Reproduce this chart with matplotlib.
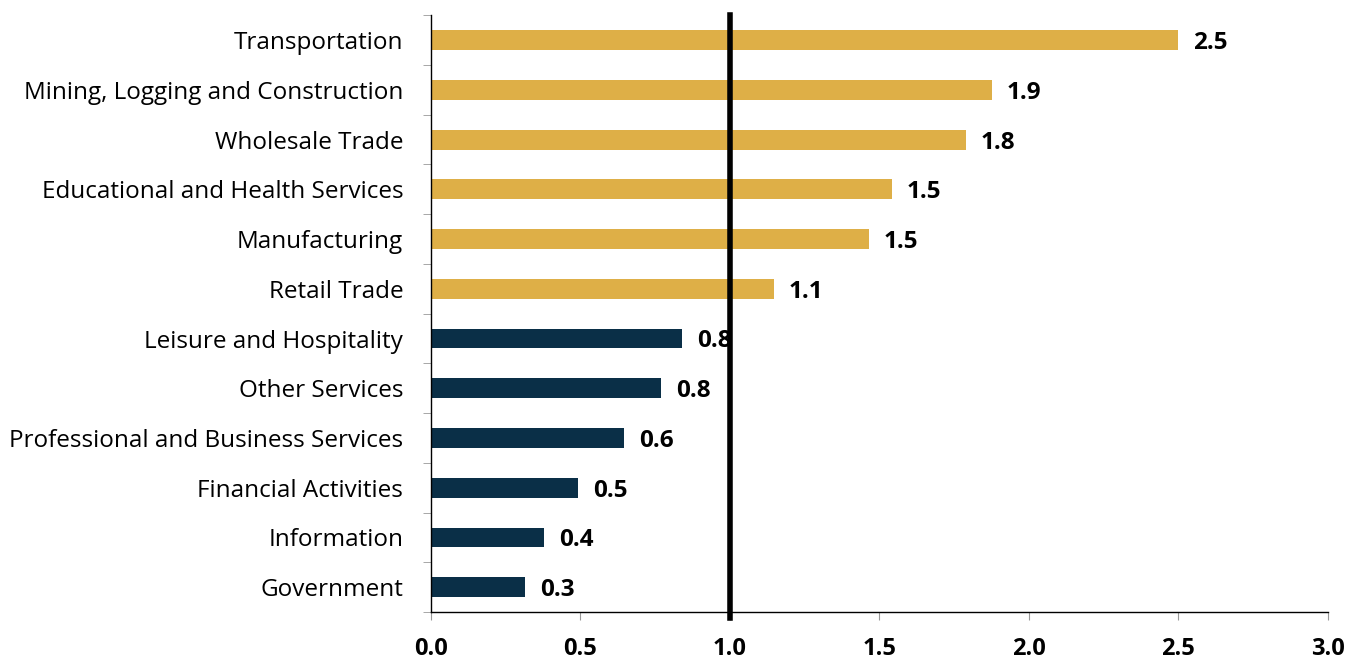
import matplotlib.pyplot as plt

# Data (top to bottom)
industries = [
    "Transportation",
    "Mining, Logging and Construction",
    "Wholesale Trade",
    "Educational and Health Services",
    "Manufacturing",
    "Retail Trade",
    "Leisure and Hospitality",
    "Other Services",
    "Professional and Business Services",
    "Financial Activities",
    "Information",
    "Government",
]
values = [2.50, 1.876, 1.789, 1.542, 1.465, 1.147, 0.839, 0.769, 0.645, 0.492, 0.378, 0.314]
above_one = ["#DEAF47" if v > 1 else "#0A2F47" for v in values]

plt.rcParams['font.family'] = ['Open Sans', 'DejaVu Sans']

fig = plt.figure(figsize=(13.66, 6.61), dpi=100)
ax = fig.add_axes([0.3155, 0.074, 0.6565, 0.903])

ypos = list(range(len(industries)))[::-1]
ax.barh(ypos, values, height=0.4, color=above_one, zorder=2)

for y, v in zip(ypos, values):
    ax.text(v + 0.05, y - 0.06, f"{v:.1f}", va="center", ha="left",
            fontsize=17.5, fontweight="bold", zorder=3)

# reference line at 1.0
ax.axvline(1.0, ymin=-0.01, ymax=1, color="black", lw=4, clip_on=False, zorder=4)

ax.set_xlim(0, 3.0)
ax.set_ylim(-0.5, len(industries) - 0.5)
ax.set_xticks([0, 0.5, 1.0, 1.5, 2.0, 2.5, 3.0])
ax.set_xticklabels([f"{t:.1f}" for t in [0, 0.5, 1.0, 1.5, 2.0, 2.5, 3.0]],
                   fontsize=17, fontweight="bold")
ax.set_yticks(ypos)
ax.set_yticklabels(industries, fontsize=17.5)
ax.tick_params(axis="y", length=0, pad=20)
ax.tick_params(axis="x", length=6, color="#999999", pad=12)

# tick marks between categories on the y axis
ax.set_yticks([i - 0.5 for i in range(len(industries) + 1)], minor=True)
ax.tick_params(axis="y", which="minor", length=6, color="#999999")

for s in ["top", "right"]:
    ax.spines[s].set_visible(False)
ax.spines["left"].set_linewidth(1)
ax.spines["bottom"].set_linewidth(1)

fig.savefig("out.png", dpi=100)
